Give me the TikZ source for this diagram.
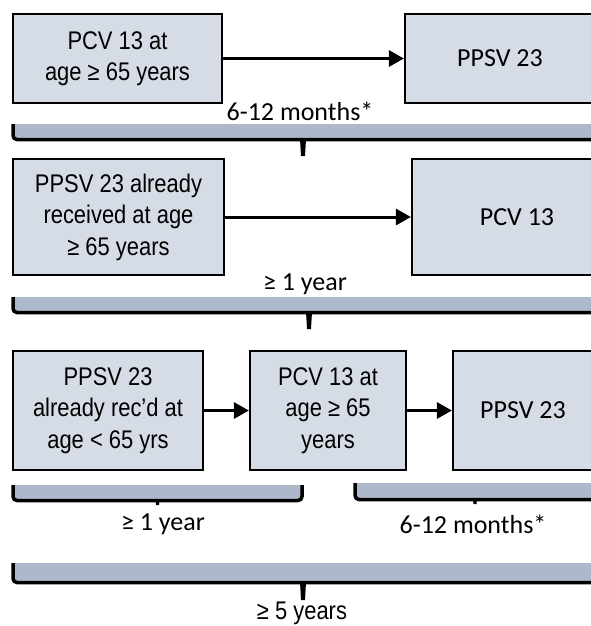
\documentclass[tikz,border=0pt]{standalone}
\usepackage{fontspec}
\newfontfamily\arialfont[FakeStretch=0.86]{Liberation Sans}
\newfontfamily\calfont{Carlito}
\usetikzlibrary{arrows.meta}
\definecolor{boxfill}{HTML}{D6DCE5}
\definecolor{barfill}{HTML}{ADB9CA}
\tikzset{
  vbox/.style={rectangle,draw,line width=2.2pt,fill=boxfill,align=center,inner sep=0pt,font=\arialfont\fontsize{25.5}{31.5}\selectfont},
  cbox/.style={vbox,font=\calfont\fontsize{26}{31.5}\selectfont},
  edge/.style={-{Triangle[length=15pt,width=16pt]},line width=3pt},
  gap/.style={inner sep=0pt,font=\calfont\fontsize{26}{31}\selectfont},
  bar/.style={fill=barfill},
  rim/.style={line width=3.5pt,rounded corners=4pt}
}

\begin{document}
\begin{tikzpicture}[x=1pt,y=-1pt]
\useasboundingbox (0,0) rectangle (591,626);
% first schedule
\node[vbox,minimum width=209pt,minimum height=89pt] (b1) at (117.5,58.5) {PCV 13 at\\age ≥ 65 years};
\node[cbox,minimum width=190pt,minimum height=89pt] (b2) at (500,58.5) {PPSV 23};
\draw[edge] (b1)--(b2);
\node[gap] (t1) at (300,111) {6-12 months*};
\fill[bar] (13,124) rectangle (600,140);
\draw[rim] (13,124)--(13,139.5)--(600,139.5);
\fill (300,139) -- (306,139) -- (305,156) -- (301,156) -- cycle;
% second schedule
\node[vbox,minimum width=211pt,minimum height=116pt] (b3) at (118.5,217) {PPSV 23 already\\received at age\\≥ 65 years};
\node[cbox,minimum width=210pt,minimum height=116pt] (b4) at (517,217) {PCV 13};
\draw[edge] (b3)--(b4);
\node[gap] (t2) at (305,284) {≥ 1 year};
\fill[bar] (13,297) rectangle (600,313);
\draw[rim] (13,297)--(13,312.5)--(600,312.5);
\fill (306,312) -- (312,312) -- (311,329) -- (307,329) -- cycle;
% third schedule
\node[vbox,minimum width=190pt,minimum height=119pt] (b5) at (108,410.5) {PPSV 23\\already rec’d at\\age < 65 yrs};
\node[vbox,minimum width=156pt,minimum height=119pt] (b6) at (328,410.5) {PCV 13 at\\age ≥ 65\\years};
\node[cbox,minimum width=140pt,minimum height=119pt] (b7) at (523,410.5) {PPSV 23};
\draw[edge] (b5)--(b6);
\draw[edge] (b6)--(b7);
\fill[bar] (13,485) rectangle (302,501);
\draw[rim] (13,485)--(13,500.5)--(302,500.5)--(302,485);
\fill (155.5,500) -- (159.5,500) -- (159,505) -- (156,505) -- cycle;
\node[gap] (t3) at (163,524) {≥ 1 year};
\fill[bar] (355,483) rectangle (600,500);
\draw[rim] (355,483)--(355,499.5)--(600,499.5);
\fill (473,499) -- (477,499) -- (476.5,504) -- (473.5,504) -- cycle;
\node[gap] (t4) at (473,524) {6-12 months*};
% whole span
\fill[bar] (13,563) rectangle (600,583);
\draw[rim] (13,563)--(13,582.5)--(600,582.5);
\fill (300,582) -- (306,582) -- (305,600) -- (301,600) -- cycle;
\node[inner sep=0pt,font=\arialfont\fontsize{25.5}{31}\selectfont] (t5) at (302,613) {≥ 5 years};
\end{tikzpicture}
\end{document}
